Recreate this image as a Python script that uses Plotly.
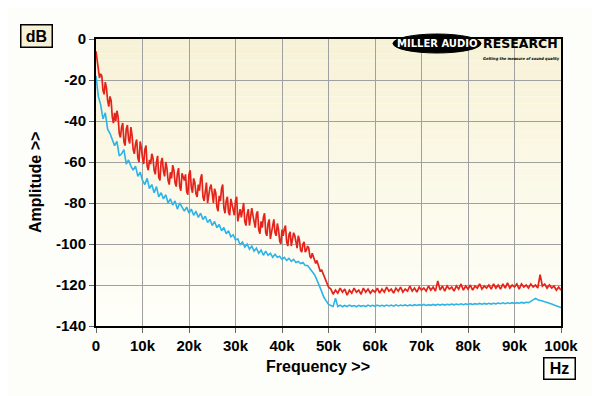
import plotly.graph_objects as go

# ---- red: 0-50 kHz every 250 Hz, then 50.5-100 kHz every 500 Hz (dB) ----
red_db = [
    -6, -11, -14, -19, -17, -18, -25, -27, -21, -24,
    -30, -33, -28, -30, -38, -41, -36, -40, -35, -38,
    -46, -48, -43, -41, -50, -52, -44, -42, -49, -51,
    -43, -47, -54, -56, -51, -49, -58, -60, -50, -53,
    -58, -61, -54, -52, -62, -64, -59, -61, -56, -58,
    -64, -66, -60, -57, -67.5, -69, -60, -58, -64.5, -67,
    -60, -63, -69, -71, -65, -68, -61.5, -64, -70, -72,
    -65.5, -63, -72, -74, -65.5, -67, -69, -66, -74.5, -76,
    -66, -64, -72.5, -75, -68, -70, -75.5, -77, -71, -74,
    -68, -66, -77, -79, -72.5, -70, -80, -76, -72.5, -71,
    -77, -80, -73, -75, -82, -84, -76.5, -79, -73, -71,
    -82.5, -85, -79, -77, -84.5, -86, -78, -81, -84, -86,
    -79, -77, -89, -86, -83, -87, -82.5, -80, -89, -91,
    -85.5, -83, -91, -87, -82.5, -86, -90, -92, -85.5, -84,
    -93, -95, -89, -92, -87, -85, -94.5, -96, -90, -88,
    -97.5, -94, -90, -88, -94.5, -96, -90, -93, -98.5, -100,
    -93, -96, -92.5, -91, -99, -101, -95.5, -94, -101, -98,
    -94.5, -96, -100, -102, -96, -98, -103, -104, -100, -99,
    -104, -103, -101, -102, -106, -107, -104.5, -106, -108, -109.5,
    -108, -110, -112, -113.5, -112.5, -114, -116, -117.5, -118.5, -120,
    -121,
    -122, -124.5, -122.5, -124, -121.5, -123.5, -122, -125, -122.5, -124,
    -121.5, -123.5, -122.5, -124.5, -121.5, -123.5, -122, -124, -122.5, -123.5,
    -121.5, -124, -122, -123.5, -121, -123, -122, -124, -121.5, -123,
    -121, -123.5, -122, -123, -120.5, -123, -121.5, -123.5, -121, -122.5,
    -121.5, -123, -120.5, -122.5, -121, -123, -118, -122.5, -120.5, -123,
    -120.5, -122, -121, -123, -120.5, -122, -119.5, -122.5, -120.5, -122,
    -120, -122.5, -120.5, -121.5, -119.5, -122, -120.5, -121.5, -120, -122,
    -119.5, -121.5, -120, -122, -119.5, -121.5, -119, -121.5, -120, -121,
    -119.5, -122, -119.5, -121, -120, -121.5, -119.5, -121, -120, -121.5,
    -115, -120.5, -119.5, -121.5, -120, -121.5, -120.5, -122.5, -121, -122.5,
]

# ---- blue: 0-100 kHz every 500 Hz (dB) ----
blue_db = [
    -18, -28, -32, -39, -36, -44, -46, -49, -52, -50,
    -57, -56, -54, -61, -59, -62, -64, -62, -67, -65,
    -69, -71, -68, -73, -71, -75, -72, -77, -75, -78,
    -76, -80, -78, -81, -79, -83, -80, -82, -84, -82,
    -85, -83, -86, -84, -87, -85, -88, -86.5, -89.5, -88,
    -91, -89, -92, -90.5, -93.5, -92, -95, -93.5, -96.5, -95.5,
    -98, -97.5, -100.5, -99, -101.5, -100, -102.5, -101, -103.5, -102,
    -104.5, -103, -105.5, -103.5, -105.5, -104.5, -106.5, -105, -106.5, -106,
    -107.5, -106.5, -108, -107, -108.5, -107.5, -109, -108.5, -109.5, -109,
    -110.5, -110.5, -112, -113, -115, -117.5, -120, -123, -126, -128,
    -129.5,
    -130, -130.5, -126.5, -130.5, -129.8, -130.6, -130, -130.5, -129.8, -130.4,
    -130, -130.6, -129.9, -130.4, -130, -130.5, -129.8, -130.3, -129.9, -130.4,
    -129.8, -130.3, -129.9, -130.3, -129.8, -130.2, -129.8, -130.3, -129.7, -130.2,
    -129.8, -130.1, -129.7, -130.2, -129.7, -130.1, -129.6, -130, -129.6, -130,
    -129.5, -130, -129.6, -129.9, -129.5, -129.9, -129.4, -129.8, -129.4, -129.8,
    -129.4, -129.7, -129.3, -129.7, -129.3, -129.6, -129.2, -129.6, -129.2, -129.5,
    -129.1, -129.5, -129.1, -129.4, -129, -129.4, -129, -129.3, -128.9, -129.3,
    -128.9, -129.2, -128.8, -129.1, -128.7, -129.1, -128.7, -129, -128.6, -129,
    -128.6, -128.9, -128.5, -128.8, -128.4, -128.6, -128, -127.2, -126.5, -127.2,
    -127.4, -127.8, -128.2, -128.5, -128.9, -129.3, -129.8, -130.2, -130.6, -131,
]

red_freq_hz = [i * 250 for i in range(201)] + [50000 + i * 500 for i in range(1, 101)]
blue_freq_hz = [i * 500 for i in range(201)]

x_tickvals = [0, 10000, 20000, 30000, 40000, 50000, 60000, 70000, 80000, 90000, 100000]
x_ticktext = ["0", "10k", "20k", "30k", "40k", "50k", "60k", "70k", "80k", "90k", "100k"]
y_tickvals = [0, -20, -40, -60, -80, -100, -120, -140]
y_ticktext = ["0", "-20", "-40", "-60", "-80", "-100", "-120", "-140"]

RED = "#E4231B"
BLUE = "#2CB4E8"
FONT = "Liberation Sans, Arial, sans-serif"
LOGO_FONT = "DejaVu Sans, sans-serif"

# page position of the plot area (browser body margin is 8 px)
PX_L, PX_R, PX_T, PX_B = 96, 561, 39, 326
PW, PH = PX_R - PX_L, PX_B - PX_T


def px(x):
    return (x - PX_L) / PW


def py(y):
    return (PX_B - y) / PH


fig = go.Figure()
fig.add_trace(go.Scatter(x=blue_freq_hz, y=blue_db, mode="lines",
                         line=dict(color=BLUE, width=1.6), hoverinfo="skip"))
fig.add_trace(go.Scatter(x=red_freq_hz, y=red_db, mode="lines",
                         line=dict(color=RED, width=1.7), hoverinfo="skip"))

# gradient plot background (cream at top fading to near white)
shapes = []
n = 40
top = (247, 242, 214)
bot = (255, 255, 250)
for i in range(n):
    t = i / (n - 1)
    c = tuple(round(top[k] + (bot[k] - top[k]) * t) for k in range(3))
    shapes.append(dict(type="rect", xref="paper", yref="paper", x0=0, x1=1,
                       y0=1 - (i + 1) / n, y1=1 - i / n,
                       fillcolor="rgb(%d,%d,%d)" % c,
                       line=dict(width=0), layer="below"))

# logo ellipse
shapes.append(dict(type="circle", xref="paper", yref="paper",
                   x0=px(393), x1=px(481), y0=py(53), y1=py(34),
                   fillcolor="black", line=dict(color="black", width=1), layer="above"))

fig.update_layout(
    width=600, height=396,
    margin=dict(l=PX_L - 8, r=600 - (PX_R - 8), t=PX_T - 8, b=396 - (PX_B - 8)),
    paper_bgcolor="#FDFDF9",
    plot_bgcolor="#FFFFF8",
    showlegend=False,
    shapes=shapes,
    font=dict(family=FONT, color="black"),
)
axis_common = dict(
    showgrid=True, gridcolor="#A0A0A0", gridwidth=1.2,
    showline=True, linecolor="black", linewidth=2, mirror=True,
    ticks="outside", ticklen=5, tickcolor="#666", tickwidth=1,
    tickfont=dict(family=FONT, size=15, color="black", weight="bold"),
    zeroline=False,
)
fig.update_xaxes(range=[0, 100000], tickvals=x_tickvals, ticktext=x_ticktext, **axis_common)
fig.update_yaxes(range=[-140, 0], tickvals=y_tickvals, ticktext=y_ticktext, **axis_common)

annotations = [
    dict(text="<b>Frequency >></b>", xref="paper", yref="paper",
         x=px(318), y=py(366), xanchor="center", yanchor="middle", showarrow=False,
         font=dict(family=FONT, size=16, color="black")),
    dict(text="<b>Amplitude >></b>", xref="paper", yref="paper",
         x=px(35), y=py(182), xanchor="center", yanchor="middle", showarrow=False,
         textangle=-90, font=dict(family=FONT, size=16, color="black")),
    dict(text="<b>dB</b>", xref="paper", yref="paper",
         x=px(36), y=py(36), xanchor="center", yanchor="middle", showarrow=False,
         font=dict(family=FONT, size=16, color="black"),
         bgcolor="#F6F1D6", bordercolor="black", borderwidth=1.5,
         borderpad=2, width=26, height=17),
    dict(text="<b>Hz</b>", xref="paper", yref="paper",
         x=px(559), y=py(368), xanchor="center", yanchor="middle", showarrow=False,
         font=dict(family=FONT, size=16, color="black"),
         bgcolor="#FFFFFC", bordercolor="black", borderwidth=1.5,
         borderpad=2, width=26, height=16),
    dict(text="<b>MILLER AUDIO</b>", xref="paper", yref="paper",
         x=px(437), y=py(44), xanchor="center", yanchor="middle", showarrow=False,
         font=dict(family=LOGO_FONT, size=10, color="white")),
    dict(text="<b>RESEARCH</b>", xref="paper", yref="paper",
         x=px(520), y=py(44), xanchor="center", yanchor="middle", showarrow=False,
         font=dict(family=LOGO_FONT, size=12.5, color="black")),
    dict(text="<b><i>Getting the measure of sound quality</i></b>",
         xref="paper", yref="paper", x=px(521), y=py(58),
         xanchor="center", yanchor="middle", showarrow=False,
         font=dict(family="DejaVu Sans Condensed, sans-serif", size=4, color="black")),
]
fig.update_layout(annotations=annotations)

fig.write_html("out.html")
